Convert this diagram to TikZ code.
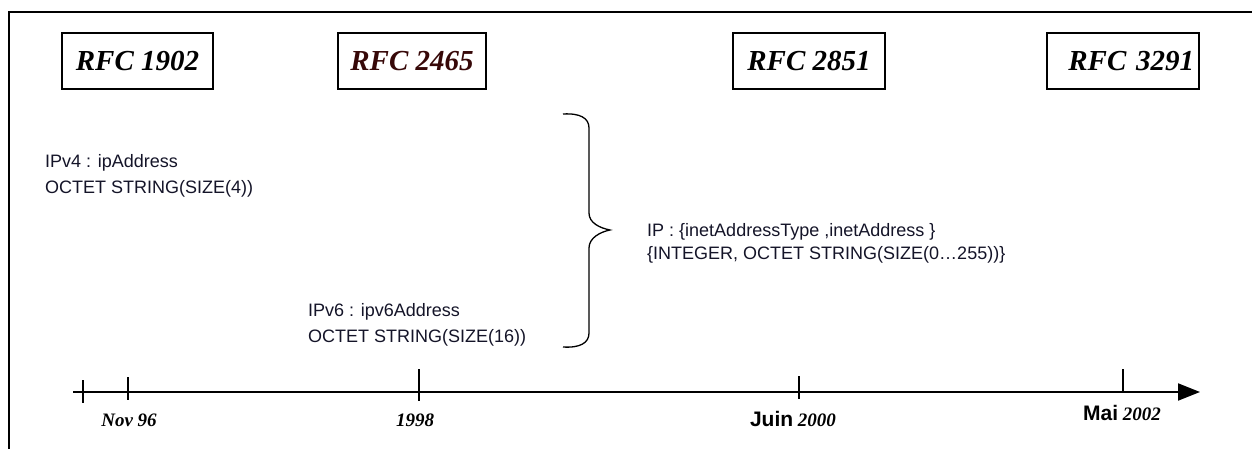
\documentclass[tikz,border=0pt]{standalone}
\usepackage{fontspec}
\setmainfont{Liberation Serif}
\newfontfamily\arialf{Liberation Sans}
\usetikzlibrary{arrows.meta}
\definecolor{txt}{RGB}{20,20,40}
\definecolor{rfcred}{RGB}{55,8,8}
\begin{document}
\begin{tikzpicture}[x=1pt,y=-1pt,
  rfcbox/.style={draw, line width=1.5pt, minimum height=56pt, inner sep=0pt,
    font=\fontsize{29}{30}\selectfont\bfseries\itshape},
  body/.style={anchor=base west, inner sep=0pt, text=txt,
    font=\arialf\fontsize{18}{22}\selectfont},
  datelbl/.style={anchor=center, inner sep=0pt,
    font=\fontsize{19}{22}\selectfont\bfseries\itshape},
  tickline/.style={line width=1.5pt},
]
\useasboundingbox (0,0) rectangle (1252,448);
% frame
\coordinate (fr1) at (1260,12);
\coordinate (fr2) at (9,12);
\coordinate (fr3) at (9,456);
\draw[line width=2.5pt] (fr1) -- (fr2) -- (fr3);
% RFC boxes
\node[rfcbox, minimum width=151pt] (rfc1902) at (137.5,61) {RFC 1902};
\node[rfcbox, minimum width=148pt, text=rfcred] (rfc2465) at (412,61) {RFC 2465};
\node[rfcbox, minimum width=152pt] (rfc2851) at (809,61) {RFC 2851};
\node[rfcbox, minimum width=152pt, text width=142pt, align=right] (rfc3291) at (1123,61) {RFC 3291};
% texts
\node[body] (ipv4a) at (45,167) {IPv4 : ipAddress};
\node[body] (ipv4b) at (45,193) {OCTET STRING(SIZE(4))};
\node[body] (ipv6a) at (308,316) {IPv6 : ipv6Address};
\node[body] (ipv6b) at (308,342) {OCTET STRING(SIZE(16))};
\node[body] (ipa) at (647,236) {IP : \{inetAddressType ,inetAddress \}};
\node[body] (ipb) at (647,259) {\{INTEGER, OCTET STRING(SIZE(0…255))\}};
% brace
\draw[line width=1.3pt] (563,114) .. controls (580,113) and (589,118) .. (589,128)
  -- (589,213) .. controls (589,223) and (600,228) .. (610,230)
  .. controls (600,232) and (589,238) .. (589,248)
  -- (589,333) .. controls (589,343) and (580,348) .. (563,347);
% axis
\coordinate (axs) at (73,392);
\coordinate (axe) at (1200,392);
\draw[line width=2pt, -{Triangle[length=22pt,width=17pt]}] (axs) -- (axe);
% ticks
\coordinate (t0a) at (83,380); \coordinate (t0b) at (83,403);
\coordinate (t1a) at (128,377); \coordinate (t1b) at (128,400);
\coordinate (t2a) at (419,369); \coordinate (t2b) at (419,401);
\coordinate (t3a) at (799,376); \coordinate (t3b) at (799,399);
\coordinate (t4a) at (1123,369); \coordinate (t4b) at (1123,392);
\draw[tickline] (t0a) -- (t0b);
\draw[tickline] (t1a) -- (t1b);
\draw[tickline] (t2a) -- (t2b);
\draw[tickline] (t3a) -- (t3b);
\draw[tickline] (t4a) -- (t4b);
% dates
\node[datelbl] (nov96) at (129,420) {Nov 96};
\node[datelbl] (y1998) at (415,420) {1998};
\node[datelbl] (juin) at (793,419) {{\arialf\fontsize{21}{22}\selectfont\bfseries\upshape Juin} 2000};
\node[datelbl] (mai) at (1122,413) {{\arialf\fontsize{21}{22}\selectfont\bfseries\upshape Mai} 2002};
\end{tikzpicture}
\end{document}
